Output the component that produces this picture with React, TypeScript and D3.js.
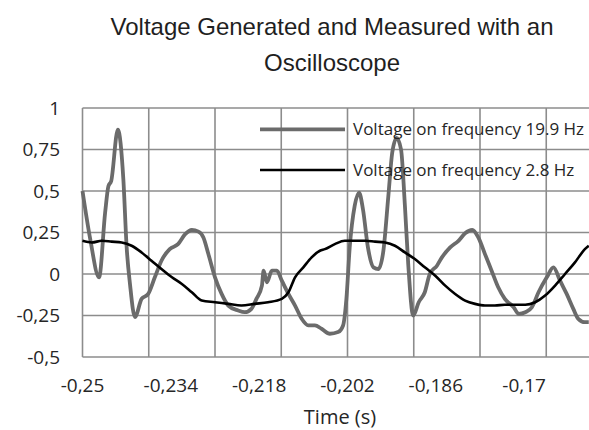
import * as d3 from "d3";
import { useEffect, useRef } from "react";

// 19.9 Hz trace (grey)
const grayTime = [
  -0.25, -0.2486, -0.247, -0.2459, -0.2453, -0.2448, -0.2436, -0.2426, -0.242, -0.2414,
  -0.2405, -0.2393, -0.2381, -0.2369, -0.2357, -0.2342, -0.2327, -0.2314, -0.2302, -0.229,
  -0.2281, -0.2272, -0.226, -0.2248, -0.2236, -0.2218, -0.2206, -0.2194, -0.2185, -0.2175,
  -0.2172, -0.2166, -0.2157, -0.2148, -0.2139, -0.2127, -0.2115, -0.2103, -0.2091, -0.2079,
  -0.2067, -0.2052, -0.2037, -0.2028, -0.2022, -0.2016, -0.2007, -0.1999, -0.1992, -0.1983,
  -0.1973, -0.1964, -0.1955, -0.1946, -0.1939, -0.1931, -0.1923, -0.1916, -0.191, -0.1901,
  -0.1891, -0.188, -0.1871, -0.1858, -0.1849, -0.1834, -0.1819, -0.1807, -0.1794, -0.1783,
  -0.1771, -0.1759, -0.1747, -0.1735, -0.1719, -0.171, -0.1698, -0.1686, -0.1674, -0.1659,
  -0.1647, -0.1635, -0.1623, -0.1611, -0.1602, -0.159, -0.1583,
];
const grayVolt = [
  0.5, 0.21, -0.02, 0.37, 0.53, 0.56, 0.87, 0.57, 0.16, -0.06,
  -0.26, -0.15, -0.12, -0.02, 0.08, 0.15, 0.18, 0.24, 0.265, 0.255,
  0.22, 0.12, -0.02, -0.12, -0.19, -0.22, -0.23, -0.21, -0.15, -0.07,
  0.02, -0.05, 0.02, 0.02, -0.04, -0.12, -0.19, -0.27, -0.31, -0.31,
  -0.33, -0.36, -0.35, -0.31, -0.15, 0.16, 0.41, 0.49, 0.39, 0.16,
  0.04, 0.03, 0.14, 0.47, 0.73, 0.82, 0.75, 0.41, 0.06, -0.25,
  -0.17, -0.11, 0.0, 0.05, 0.1, 0.16, 0.2, 0.245, 0.265, 0.22,
  0.12, 0.02, -0.08, -0.15, -0.2, -0.24, -0.23, -0.2, -0.11, -0.02,
  0.04, -0.04, -0.12, -0.21, -0.27, -0.29, -0.29,
];

// 2.8 Hz trace (black)
const blackTime = [
  -0.25, -0.2483, -0.2465, -0.2447, -0.2429, -0.2411, -0.2393, -0.2375, -0.2357, -0.2338,
  -0.232, -0.2302, -0.2284, -0.226, -0.2236, -0.2212, -0.2188, -0.2164, -0.2139, -0.2127,
  -0.2115, -0.21, -0.2085, -0.207, -0.2061, -0.2043, -0.2025, -0.2007, -0.1989, -0.197,
  -0.1952, -0.1934, -0.1916, -0.1898, -0.188, -0.1861, -0.1843, -0.1825, -0.1807, -0.1789,
  -0.1771, -0.1753, -0.1735, -0.1717, -0.1698, -0.168, -0.1662, -0.1644, -0.1626, -0.1608,
  -0.159, -0.1583,
];
const blackVolt = [
  0.2, 0.19, 0.2, 0.195, 0.19, 0.17, 0.13, 0.08, 0.03, -0.02,
  -0.06, -0.11, -0.16, -0.17, -0.18, -0.19, -0.18, -0.17, -0.15, -0.11,
  -0.02, 0.04, 0.1, 0.14, 0.15, 0.18, 0.2, 0.2, 0.2, 0.195,
  0.19, 0.17, 0.13, 0.09, 0.04, -0.01, -0.07, -0.12, -0.16, -0.18,
  -0.19, -0.19, -0.185, -0.185, -0.185, -0.17, -0.13, -0.07, 0.0, 0.07,
  0.15, 0.17,
];

const yTicks = [-0.5, -0.25, 0, 0.25, 0.5, 0.75, 1];
const xLabelTicks = [-0.25, -0.234, -0.218, -0.202, -0.186, -0.17];
const xGridTicks = [-0.25, -0.238, -0.226, -0.214, -0.202, -0.19, -0.178, -0.166, -0.154];
const legendLabels = ["Voltage on frequency 19.9 Hz", "Voltage on frequency 2.8 Hz"];
const titleLines = ["Voltage Generated and Measured with an", "Oscilloscope"];

const WIDTH = 589;
const HEIGHT = 430;
const GRID = "#8c8c8c";
const TEXT = "#262626";
const SANS = "'Open Sans', 'Noto Sans', sans-serif";

export default function App() {
  const ref = useRef<SVGSVGElement | null>(null);

  useEffect(() => {
    const svg = d3.select(ref.current);
    svg.selectAll("*").remove();

    const x = d3.scaleLinear().domain([-0.25, -0.154]).range([82.5, 612.5]);
    const y = d3.scaleLinear().domain([-0.5, 1]).range([357, 108]);
    const fmt = d3
      .formatLocale({ decimal: ",", thousands: ".", grouping: [3], currency: ["", ""], minus: "-" })
      .format("~g");

    // title
    svg
      .append("g")
      .selectAll("text")
      .data(titleLines)
      .join("text")
      .attr("x", 332)
      .attr("y", (_, i) => 35 + i * 36)
      .attr("text-anchor", "middle")
      .attr("font-family", "'Liberation Sans', Arial, sans-serif")
      .attr("font-size", 24)
      .attr("fill", "#1f1f1f")
      .text((d) => d);

    // gridlines
    const grid = svg.append("g").attr("stroke", GRID).attr("stroke-width", 1.6);
    grid
      .selectAll("line.h")
      .data(yTicks)
      .join("line")
      .attr("class", "h")
      .attr("x1", x.range()[0])
      .attr("x2", x.range()[1])
      .attr("y1", (d) => y(d))
      .attr("y2", (d) => y(d));
    grid
      .selectAll("line.v")
      .data(xGridTicks)
      .join("line")
      .attr("class", "v")
      .attr("x1", (d) => x(d))
      .attr("x2", (d) => x(d))
      .attr("y1", y(1))
      .attr("y2", y(-0.5));

    // tick labels
    svg
      .append("g")
      .selectAll("text")
      .data(yTicks)
      .join("text")
      .attr("x", 60)
      .attr("y", (d) => y(d))
      .attr("dy", "0.35em")
      .attr("text-anchor", "end")
      .attr("font-family", SANS)
      .attr("font-size", 19)
      .attr("fill", TEXT)
      .text((d) => fmt(d));

    svg
      .append("g")
      .selectAll("text")
      .data(xLabelTicks)
      .join("text")
      .attr("x", (d) => x(d))
      .attr("y", 392)
      .attr("text-anchor", "middle")
      .attr("font-family", SANS)
      .attr("font-size", 19)
      .attr("fill", TEXT)
      .text((d) => fmt(d));

    svg
      .append("text")
      .attr("x", 340)
      .attr("y", 424)
      .attr("text-anchor", "middle")
      .attr("font-family", SANS)
      .attr("font-size", 20)
      .attr("fill", TEXT)
      .text("Time (s)");

    // series
    const series = [
      { t: grayTime, v: grayVolt, color: "#6b6b6b", w: 3.8 },
      { t: blackTime, v: blackVolt, color: "#000", w: 2.6 },
    ];
    const line = d3.line().curve(d3.curveMonotoneX);
    series.forEach((s) => {
      const pts: [number, number][] = s.t.map((t, i) => [x(t), y(s.v[i])]);
      svg
        .append("path")
        .attr("d", line(pts))
        .attr("fill", "none")
        .attr("stroke", s.color)
        .attr("stroke-width", s.w)
        .attr("stroke-linejoin", "round");
    });

    // legend
    const legend = svg
      .append("g")
      .selectAll("g")
      .data(legendLabels)
      .join("g")
      .attr("transform", (_, i) => `translate(0,${129.3 + i * 40.7})`);
    legend
      .append("line")
      .attr("x1", 260)
      .attr("x2", 345)
      .attr("stroke", (_, i) => series[i].color)
      .attr("stroke-width", (_, i) => series[i].w);
    legend
      .append("text")
      .attr("x", 353)
      .attr("y", 6)
      .attr("font-family", SANS)
      .attr("font-size", 17)
      .attr("fill", TEXT)
      .text((d) => d);
  }, []);

  return (
    <svg
      ref={ref}
      width={WIDTH}
      height={HEIGHT}
      style={{ position: "absolute", left: 0, top: 0, background: "#fff" }}
    />
  );
}
